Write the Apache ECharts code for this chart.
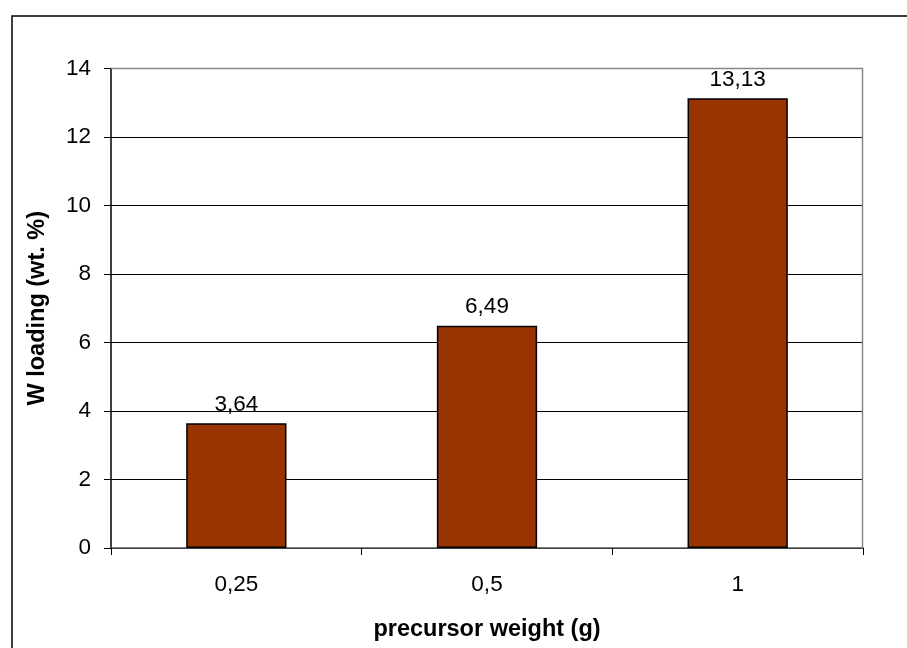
<!DOCTYPE html>
<html>
<head>
<meta charset="utf-8">
<script src="https://cdn.jsdelivr.net/npm/echarts@6/dist/echarts.min.js"></script>
<style>
html, body { margin: 0; padding: 0; background: #fff; }
#chart { width: 907px; height: 648px; }
</style>
</head>
<body>
<div id="chart"></div>
<script>
// Tungsten loading versus precursor weight
const categories = ['0,25', '0,5', '1'];
const loading = [3.64, 6.49, 13.13];
const yTicks = [0, 2, 4, 6, 8, 10, 12, 14];

const FONT = '"Liberation Sans", Arial, sans-serif';
const chart = echarts.init(document.getElementById('chart'), null, { renderer: 'canvas' });

chart.setOption({
  animation: false,
  backgroundColor: '#ffffff',
  graphic: [
    // outer chart frame
    { type: 'rect', left: 9.5, top: 13.5, shape: { width: 1000, height: 1000 },
      style: { fill: 'none', stroke: '#000', lineWidth: 1.5 }, silent: true, z: -1 },
    // grey top and right edges of the plot area
    { type: 'polyline', shape: { points: [[111, 68.5], [862.5, 68.5], [862.5, 548]] },
      style: { fill: 'none', stroke: '#888', lineWidth: 1.5 }, silent: true, z: 10 }
  ],
  grid: { left: 111, right: 44, top: 68.5, bottom: 100, containLabel: false },
  xAxis: {
    type: 'category',
    data: categories,
    name: 'precursor weight (g)',
    nameLocation: 'middle',
    nameGap: 70,
    nameTextStyle: { fontFamily: FONT, fontWeight: 'bold', fontSize: 23.5, color: '#000' },
    axisLine: { lineStyle: { color: '#555', width: 1.5 } },
    axisTick: { show: true, length: 7, alignWithLabel: false, lineStyle: { color: '#000' } },
    axisLabel: { fontFamily: FONT, fontSize: 22.5, color: '#000', margin: 25 },
    splitLine: { show: false }
  },
  yAxis: {
    type: 'value',
    min: yTicks[0],
    max: yTicks[yTicks.length - 1],
    interval: 2,
    name: 'W loading (wt. %)',
    nameLocation: 'middle',
    nameGap: 61,
    nameRotate: 90,
    nameTextStyle: { fontFamily: FONT, fontWeight: 'bold', fontSize: 23.5, color: '#000' },
    axisLine: { show: true, lineStyle: { color: '#000', width: 1.5 } },
    axisTick: { show: true, length: 7, lineStyle: { color: '#000' } },
    axisLabel: { fontFamily: FONT, fontSize: 22.5, color: '#000', margin: 20,
      formatter: v => String(v) },
    splitLine: { show: true, lineStyle: { color: '#000', width: 1 } }
  },
  series: [{
    type: 'bar',
    data: loading,
    barWidth: '40%',
    itemStyle: { color: '#993300', borderColor: '#000', borderWidth: 1.5 },
    label: {
      show: true,
      position: 'top',
      distance: 7,
      fontFamily: FONT,
      fontSize: 22.5,
      color: '#000',
      formatter: p => String(p.value).replace('.', ',')
    }
  }]
});
</script>
</body>
</html>
